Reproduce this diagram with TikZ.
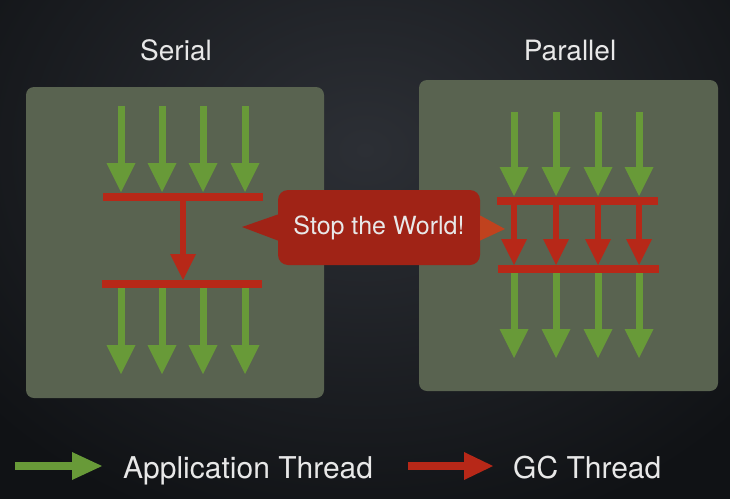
\documentclass[tikz,border=0pt]{standalone}
\usepackage{fontspec}
\setmainfont{TeX Gyre Heros}
\usetikzlibrary{arrows.meta}
\definecolor{bgdark}{RGB}{16,18,21}
\definecolor{bglight}{RGB}{44,47,53}
\definecolor{panelgray}{RGB}{89,99,80}
\definecolor{appgreen}{RGB}{104,154,56}
\definecolor{gcred}{RGB}{183,40,24}
\definecolor{calloutred}{RGB}{160,35,22}
\definecolor{pointerred}{RGB}{192,66,30}
\definecolor{textgray}{RGB}{232,232,232}
\begin{document}
\begin{tikzpicture}[x=1pt, y=-1pt, font=\fontsize{28}{34}\selectfont]
	\tikzset{panel/.style={fill=panelgray, rounded corners=8pt},
		app/.style={draw=appgreen, line width=7pt, -{Triangle[length=29pt, width=29pt, line width=0pt]}},
		gc/.style={draw=gcred, line width=6pt, -{Triangle[length=26pt, width=26pt, line width=0pt]}},
		bar/.style={draw=gcred, line width=8pt},
		label style/.style={text=textgray, inner sep=0pt}}
	\useasboundingbox (0,0) rectangle (730,498);
	\clip (0,0) rectangle (730,498);
	\shade[inner color=bglight, outer color=bgdark] (-135,-250) rectangle (865,550);
	\fill[panel] (26,87) rectangle (324,398);
	\fill[panel] (419,80) rectangle (718,391);
	\node[label style, anchor=base] (serial) at (176,60) {Serial};
	\node[label style, anchor=base] (parallel) at (570,60) {Parallel};
	\foreach \i/\x in {1/121, 2/162, 3/203, 4/245} {
		\coordinate (sa\i) at (\x,106);
		\coordinate (sb\i) at (\x,192);
		\coordinate (sc\i) at (\x,288);
		\coordinate (sd\i) at (\x,374);
		\draw[app] (sa\i) -- (sb\i);
		\draw[app] (sc\i) -- (sd\i);
	}
	\coordinate (sbar1l) at (103,197); \coordinate (sbar1r) at (263,197);
	\coordinate (sbar2l) at (102,284); \coordinate (sbar2r) at (262,284);
	\draw[bar] (sbar1l) -- (sbar1r);
	\draw[bar] (sbar2l) -- (sbar2r);
	\coordinate (sgc1) at (183,201); \coordinate (sgc2) at (183,280);
	\draw[gc] (sgc1) -- (sgc2);
	\foreach \i/\x in {1/514, 2/556, 3/598, 4/639} {
		\coordinate (pa\i) at (\x,112);
		\coordinate (pb\i) at (\x,196);
		\coordinate (pc\i) at (\x,205);
		\coordinate (pd\i) at (\x,265);
		\coordinate (pe\i) at (\x,273);
		\coordinate (pf\i) at (\x,358);
		\draw[app] (pa\i) -- (pb\i);
		\draw[gc] (pc\i) -- (pd\i);
		\draw[app] (pe\i) -- (pf\i);
	}
	\coordinate (pbar1l) at (497,201); \coordinate (pbar1r) at (658,201);
	\coordinate (pbar2l) at (498,269); \coordinate (pbar2r) at (659,269);
	\draw[bar] (pbar1l) -- (pbar1r);
	\draw[bar] (pbar2l) -- (pbar2r);
	\node[fill=calloutred, rounded corners=10pt, minimum width=202pt, minimum height=75pt, text=textgray,
		font=\fontsize{25}{30}\selectfont] (stop) at (379,227.5) {Stop the World!};
	\coordinate (ptrl) at (242,227);
	\coordinate (ptrr) at (505,229);
	\fill[calloutred] (ptrl) -- ([yshift=13pt]stop.west) -- ([yshift=-13pt]stop.west) -- cycle;
	\fill[pointerred] (ptrr) -- ([yshift=12pt]stop.east) -- ([yshift=-13pt]stop.east) -- cycle;
	\coordinate (lga) at (15,466); \coordinate (lgb) at (102,466);
	\coordinate (lra) at (408,466); \coordinate (lrb) at (493,466);
	\draw[app, line width=8pt, -{Triangle[length=30pt, width=28pt, line width=0pt]}] (lga) -- (lgb);
	\draw[gc, line width=8pt, -{Triangle[length=29pt, width=28pt, line width=0pt]}] (lra) -- (lrb);
	\node[label style, anchor=base west, font=\fontsize{30}{36}\selectfont] (applabel) at (123,478) {Application Thread};
	\node[label style, anchor=base west, font=\fontsize{30}{36}\selectfont] (gclabel) at (513,478) {GC Thread};
\end{tikzpicture}
\end{document}
